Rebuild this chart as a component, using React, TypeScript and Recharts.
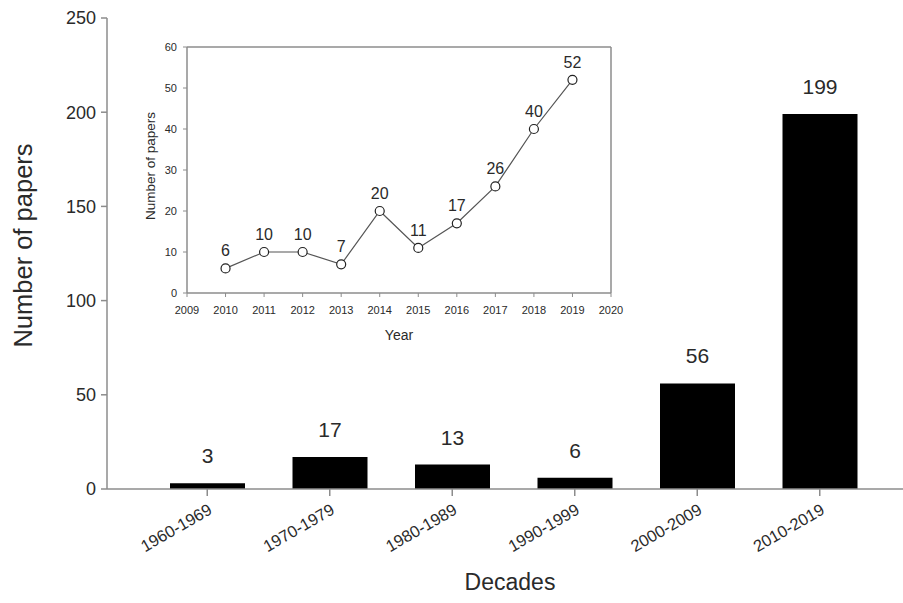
import React from 'react';
import { BarChart, Bar, XAxis, YAxis, LabelList, Label, LineChart, Line, ReferenceLine } from 'recharts';

const decades = ['1960-1969', '1970-1979', '1980-1989', '1990-1999', '2000-2009', '2010-2019'];
const decadePapers = [3, 17, 13, 6, 56, 199];
const mainYTicks = [0, 50, 100, 150, 200, 250];

const years = [2010, 2011, 2012, 2013, 2014, 2015, 2016, 2017, 2018, 2019];
const yearPapers = [6, 10, 10, 7, 20, 11, 17, 26, 40, 52];
const insetXTicks = [2009, 2010, 2011, 2012, 2013, 2014, 2015, 2016, 2017, 2018, 2019, 2020];
const insetYTicks = [0, 10, 20, 30, 40, 50, 60];
const insetXMax = 2020;
const insetYMax = 60;

const mainData = decades.map((d, i) => ({ decade: d, papers: decadePapers[i] }));
const insetData = years.map((y, i) => ({ year: y, papers: yearPapers[i] }));

const FONT = "'Liberation Sans', Arial, sans-serif";
const TEXT = '#2a2a2a';
const AXIS = '#8c8c8c';

const DecadeTick = (props: any) => {
  const { x, y, payload } = props;
  const ax = x + 6;
  const ay = y + 15;
  return (
    <text
      x={ax}
      y={ay}
      textAnchor="end"
      transform={`rotate(-30, ${ax}, ${ay})`}
      fontSize={16.5}
      fill={TEXT}
      fontFamily={FONT}
    >
      {payload.value}
    </text>
  );
};

export default function App() {
  return (
    <div
      style={{
        position: 'absolute',
        left: 0,
        top: 0,
        width: 903,
        height: 603,
        background: '#fff',
        fontFamily: FONT,
        overflow: 'hidden',
      }}
    >
      <BarChart
        width={903}
        height={603}
        data={mainData}
        margin={{ top: 18, right: 0, bottom: 0, left: 0 }}
      >
        <XAxis
          dataKey="decade"
          height={114}
          padding={{ left: 39, right: 22 }}
          axisLine={{ stroke: AXIS, strokeWidth: 1.5 }}
          tickLine={{ stroke: AXIS, strokeWidth: 1.5 }}
          tickSize={7}
          tick={<DecadeTick />}
          interval={0}
        >
          <Label
            content={(p: any) => {
              const vb = p.viewBox;
              const cx = vb.x + vb.width / 2 + 5;
              return (
                <text x={cx} y={590} textAnchor="middle" fontSize={23} fill={TEXT} fontFamily={FONT}>
                  Decades
                </text>
              );
            }}
          />
        </XAxis>
        <YAxis
          width={107}
          domain={[0, 250]}
          ticks={mainYTicks}
          interval={0}
          axisLine={{ stroke: AXIS, strokeWidth: 1.5 }}
          tickLine={{ stroke: AXIS, strokeWidth: 1.5 }}
          tickSize={6}
          tickMargin={5}
          tick={{ fontSize: 18, fill: TEXT, fontFamily: FONT }}
        >
          <Label
            content={(p: any) => {
              const vb = p.viewBox;
              const cx = 23;
              const cy = vb.y + vb.height / 2 - 8;
              return (
                <text
                  x={cx}
                  y={cy}
                  textAnchor="middle"
                  dominantBaseline="central"
                  transform={`rotate(-90, ${cx}, ${cy})`}
                  fontSize={25.5}
                  fill={TEXT}
                  fontFamily={FONT}
                >
                  Number of papers
                </text>
              );
            }}
          />
        </YAxis>
        <Bar dataKey="papers" fill="#000" barSize={75} isAnimationActive={false}>
          <LabelList dataKey="papers" position="top" offset={20} fontSize={21} fill={TEXT} fontFamily={FONT} />
        </Bar>
      </BarChart>

      <div style={{ position: 'absolute', left: 130, top: 30 }}>
        <LineChart
          width={500}
          height={320}
          data={insetData}
          margin={{ top: 17, right: 19, bottom: 0, left: 0 }}
        >
          <XAxis
            dataKey="year"
            type="number"
            domain={[2009, 2020]}
            ticks={insetXTicks}
            interval={0}
            height={57}
            tickSize={4}
            tickMargin={9}
            axisLine={{ stroke: AXIS, strokeWidth: 1.5 }}
            tickLine={{ stroke: AXIS, strokeWidth: 1 }}
            tick={{ fontSize: 11, fill: TEXT, fontFamily: FONT }}
          >
            <Label
              content={(p: any) => {
                const vb = p.viewBox;
                const cx = vb.x + vb.width / 2;
                return (
                  <text x={cx} y={310} textAnchor="middle" fontSize={14} fill={TEXT} fontFamily={FONT}>
                    Year
                  </text>
                );
              }}
            />
          </XAxis>
          <YAxis
            domain={[0, 60]}
            ticks={insetYTicks}
            interval={0}
            width={57}
            tickSize={4}
            tickMargin={6}
            axisLine={{ stroke: AXIS, strokeWidth: 1.5 }}
            tickLine={{ stroke: AXIS, strokeWidth: 1 }}
            tick={{ fontSize: 11, fill: TEXT, fontFamily: FONT }}
          >
            <Label
              content={(p: any) => {
                const vb = p.viewBox;
                const cx = 20;
                const cy = vb.y + vb.height / 2 - 4;
                return (
                  <text
                    x={cx}
                    y={cy}
                    textAnchor="middle"
                    dominantBaseline="central"
                    transform={`rotate(-90, ${cx}, ${cy})`}
                    fontSize={13.5}
                    fill={TEXT}
                    fontFamily={FONT}
                  >
                    Number of papers
                  </text>
                );
              }}
            />
          </YAxis>
          <ReferenceLine y={insetYMax} stroke={AXIS} strokeWidth={1.5} ifOverflow="visible" />
          <ReferenceLine x={insetXMax} stroke={AXIS} strokeWidth={1.5} ifOverflow="visible" />
          <Line
            dataKey="papers"
            stroke="#555"
            strokeWidth={1.2}
            dot={{ r: 4.5, stroke: '#222', strokeWidth: 1.2, fill: '#fff' }}
            isAnimationActive={false}
          >
            <LabelList dataKey="papers" position="top" offset={12} fontSize={16} fill={TEXT} fontFamily={FONT} />
          </Line>
        </LineChart>
      </div>
    </div>
  );
}
